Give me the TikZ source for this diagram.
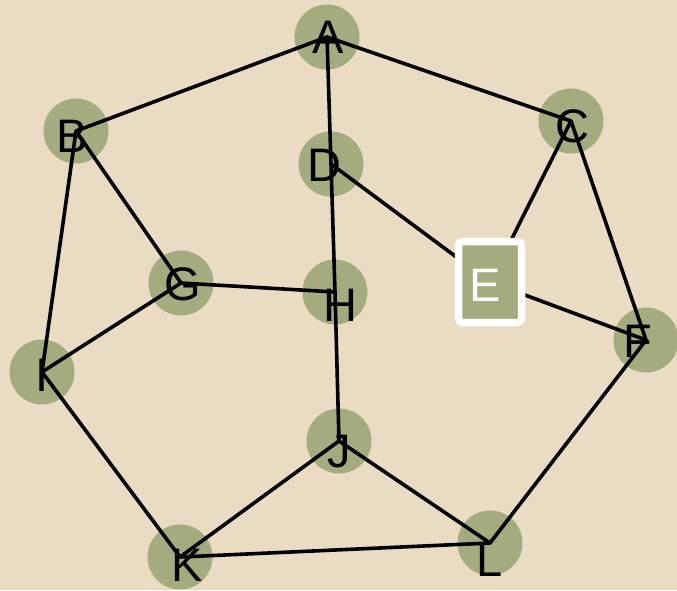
\documentclass[tikz,border=0pt]{standalone}
\usepackage{fontspec}
\setmainfont{Liberation Sans}
\definecolor{gbg}{RGB}{233,220,194}
\definecolor{ggreen}{RGB}{164,171,127}

\begin{document}
\begin{tikzpicture}[x=1pt,y=-1pt,
    vtx/.style={circle,fill=ggreen,minimum size=65pt,inner sep=0},
    lbl/.style={font=\fontsize{47}{50}\selectfont,inner sep=0},
    a/.style={line width=3.6pt,line cap=round}]
    \fill[gbg] (0,0) rectangle (677,590);
    \useasboundingbox (0,0) rectangle (677,590);
    % vertices
    \node[vtx] (A) at (327,37) {};
    \node[vtx] (B) at (76,131) {};
    \node[vtx] (C) at (571,121) {};
    \node[vtx] (D) at (331,164) {};
    \coordinate (E) at (490,282);
    \node[vtx] (F) at (646,340) {};
    \node[vtx] (G) at (181,283) {};
    \node[vtx] (H) at (335,292) {};
    \node[vtx] (I) at (42,372) {};
    \node[vtx] (J) at (339,441) {};
    \node[vtx] (K) at (180,557) {};
    \node[vtx] (L) at (490,543) {};
    % edges
    \draw[a] (A.center)--(B.center); \draw[a] (A.center)--(C.center);
    \draw[a] (A.center)--(D.center); \draw[a] (D.center)--(H.center);
    \draw[a] (H.center)--(J.center);
    \draw[a] (B.center)--(G.center); \draw[a] (B.center)--(I.center);
    \draw[a] (C.center)--(E); \draw[a] (C.center)--(F.center);
    \draw[a] (D.center)--(E); \draw[a] (E)--(F.center);
    \draw[a] (G.center)--(H.center); \draw[a] (G.center)--(I.center);
    \draw[a] (I.center)--(K.center);
    \draw[a] (J.center)--(K.center); \draw[a] (J.center)--(L.center);
    \draw[a] (K.center)--(L.center); \draw[a] (L.center)--(F.center);
    % labels
    \node[lbl] (la) at (328,37) {A};
    \node[lbl] (lb) at (72,136) {B};
    \node[lbl] (lc) at (572,126) {C};
    \node[lbl] (ld) at (324,165) {D};
    \node[lbl] (lf) at (638,341) {F};
    \node[lbl] (lg) at (183,284) {G};
    \node[lbl] (lh) at (340,305) {H};
    \node[lbl] (li) at (42,375) {I};
    \node[lbl] (lj) at (339,452) {J};
    \node[lbl] (lk) at (187,565) {K};
    \node[lbl] (ll) at (490,560) {L};
    \node[draw=white,line width=7.5pt,fill=ggreen,rounded corners=4pt,minimum width=63pt,minimum height=81pt,inner sep=0] (Ebox) at (E) {};
    \node[lbl,text=white] (le) at (485,285) {E};
\end{tikzpicture}
\end{document}
